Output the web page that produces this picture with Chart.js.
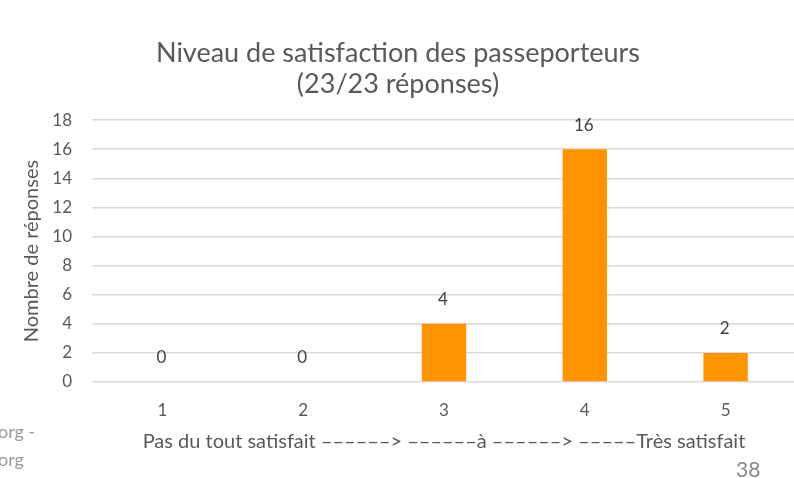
<!DOCTYPE html>
<html>
<head>
<meta charset="utf-8">
<script src="https://cdn.jsdelivr.net/npm/chart.js@4.4.1/dist/chart.umd.min.js"></script>
<style>
  html, body { margin: 0; padding: 0; background: #fff; overflow: hidden; width: 794px; height: 478px; }
  #wrap { position: relative; width: 796px; height: 478px; }
  .note { position: absolute; font-family: Lato, "Open Sans", sans-serif; color: #9a9a9a; white-space: nowrap; }
</style>
</head>
<body>
<div id="wrap">
  <canvas id="c" width="796" height="478"></canvas>
  <div class="note" style="left:-2px; top:420px; font-size:18px;">org -</div>
  <div class="note" style="left:-2px; top:448px; font-size:18px;">org</div>
  <div class="note" style="left:736px; top:456px; font-size:21px; color:#8a8a8a;">38</div>
</div>
<script>
const categories = ["1", "2", "3", "4", "5"];
const responses = [0, 0, 4, 16, 2];
const yTicks = [0, 2, 4, 6, 8, 10, 12, 14, 16, 18];
const titleLines = ["Niveau de satisfaction des passeporteurs", "(23/23 réponses)"];
const xTitle = "Pas du tout satisfait ––––––> ––––––à ––––––> –––––Très satisfait";
const yTitle = "Nombre de réponses";

const FONT = 'Lato, "Open Sans", sans-serif';
const TXT = '#595959';

const labelPlugin = {
  id: 'barLabels',
  afterDatasetsDraw(chart) {
    const ctx = chart.ctx;
    const meta = chart.getDatasetMeta(0);
    ctx.save();
    ctx.font = '17px ' + FONT;
    ctx.fillStyle = '#404040';
    ctx.textAlign = 'center';
    ctx.textBaseline = 'middle';
    meta.data.forEach((bar, i) => {
      ctx.fillText(String(responses[i]), bar.x - 1, bar.y - 24);
    });
    ctx.restore();
  }
};

new Chart(document.getElementById('c'), {
  type: 'bar',
  data: {
    labels: categories,
    datasets: [{
      data: responses,
      backgroundColor: '#FF9300',
      borderWidth: 0,
      barPercentage: 0.63,
      categoryPercentage: 0.5
    }]
  },
  options: {
    responsive: false,
    animation: false,
    layout: { padding: { left: 0, right: 0, top: 0, bottom: 0 } },
    plugins: {
      legend: { display: false },
      tooltip: { enabled: false },
      title: {
        display: true,
        text: titleLines,
        color: TXT,
        font: { family: FONT, size: 27, weight: 'normal', lineHeight: 1.15 },
        padding: { top: 38, bottom: 20 }
      }
    },
    scales: {
      x: {
        afterFit(scale) { scale.height = 96; },
        grid: { display: false, drawTicks: false },
        border: { display: false },
        ticks: { color: TXT, font: { family: FONT, size: 17 }, padding: 18 },
        title: {
          display: true,
          text: xTitle,
          color: TXT,
          font: { family: FONT, size: 20 },
          padding: { top: 0, bottom: 24 }
        }
      },
      y: {
        min: 0,
        max: 18,
        afterBuildTicks(scale) { scale.ticks = yTicks.map(v => ({ value: v })); },
        afterFit(scale) { scale.width = 92; },
        grid: { color: '#D9D9D9', lineWidth: 1.5, drawTicks: false },
        border: { display: false },
        ticks: { color: TXT, font: { family: FONT, size: 17 }, padding: 20 },
        title: {
          display: true,
          text: yTitle,
          color: TXT,
          font: { family: FONT, size: 20 },
          padding: { top: 20, bottom: 0 }
        }
      }
    }
  },
  plugins: [labelPlugin]
});
</script>
</body>
</html>
